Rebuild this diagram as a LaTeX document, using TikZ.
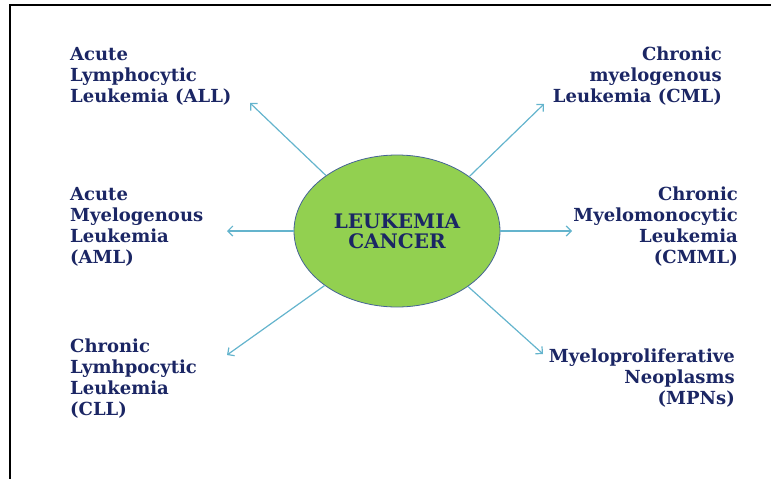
\documentclass[tikz,border=0pt]{standalone}
\usepackage{fontspec}
\setmainfont{DejaVu Serif}
\usetikzlibrary{arrows.meta,shapes.geometric}
\definecolor{navy}{RGB}{27,38,100}
\definecolor{leaf}{RGB}{146,208,80}
\definecolor{rim}{RGB}{70,100,150}
\definecolor{arr}{RGB}{100,180,205}
\begin{document}
\begin{tikzpicture}[x=1pt,y=-1pt,
  lbl/.style={font=\fontsize{18}{21}\selectfont\bfseries, text=navy, inner sep=0pt},
  conn/.style={draw=arr, line width=1.2pt, -{Straight Barb[length=5pt,width=10pt]}}]
\useasboundingbox (0,0) rectangle (771,479);
\draw[line width=2pt] (9,5) -- (771,5);
\draw[line width=2pt] (10,4) -- (10,479);
\node[ellipse, draw=rim, fill=leaf, line width=0.8pt, minimum width=206pt, minimum height=152pt, inner sep=0pt, text=navy, font=\fontsize{20}{20}\selectfont\bfseries, align=center] (c) at (397,231) {LEUKEMIA\\CANCER};
\node[lbl, align=left, anchor=north west] (all) at (70,47) {Acute\\Lymphocytic\\Leukemia (ALL)};
\node[lbl, align=right, anchor=north east] (cml) at (722,47) {Chronic\\myelogenous\\Leukemia (CML)};
\node[lbl, align=left, anchor=north west] (aml) at (70,187) {Acute\\Myelogenous\\Leukemia\\(AML)};
\node[lbl, align=right, anchor=north east] (cmml) at (738,187) {Chronic\\Myelomonocytic\\Leukemia\\(CMML)};
\node[lbl, align=left, anchor=north west] (cll) at (70,339) {Chronic\\Lymhpocytic\\Leukemia\\(CLL)};
\node[lbl, align=right, anchor=north east] (mpn) at (735,349) {Myeloproliferative\\Neoplasms\\(MPNs)};
\coordinate (t1) at (250,103);
\coordinate (t2) at (544,104);
\coordinate (t3) at (227,231);
\coordinate (t4) at (572,231);
\coordinate (t5) at (227,355);
\coordinate (t6) at (543,354);
\draw[conn] (c.142.9) -- (t1);
\draw[conn] (c.37.5) -- (t2);
\draw[conn] (c.west) -- (t3);
\draw[conn] (c.east) -- (t4);
\draw[conn] (c.217.9) -- (t5);
\draw[conn] (c.322.5) -- (t6);
\end{tikzpicture}
\end{document}
